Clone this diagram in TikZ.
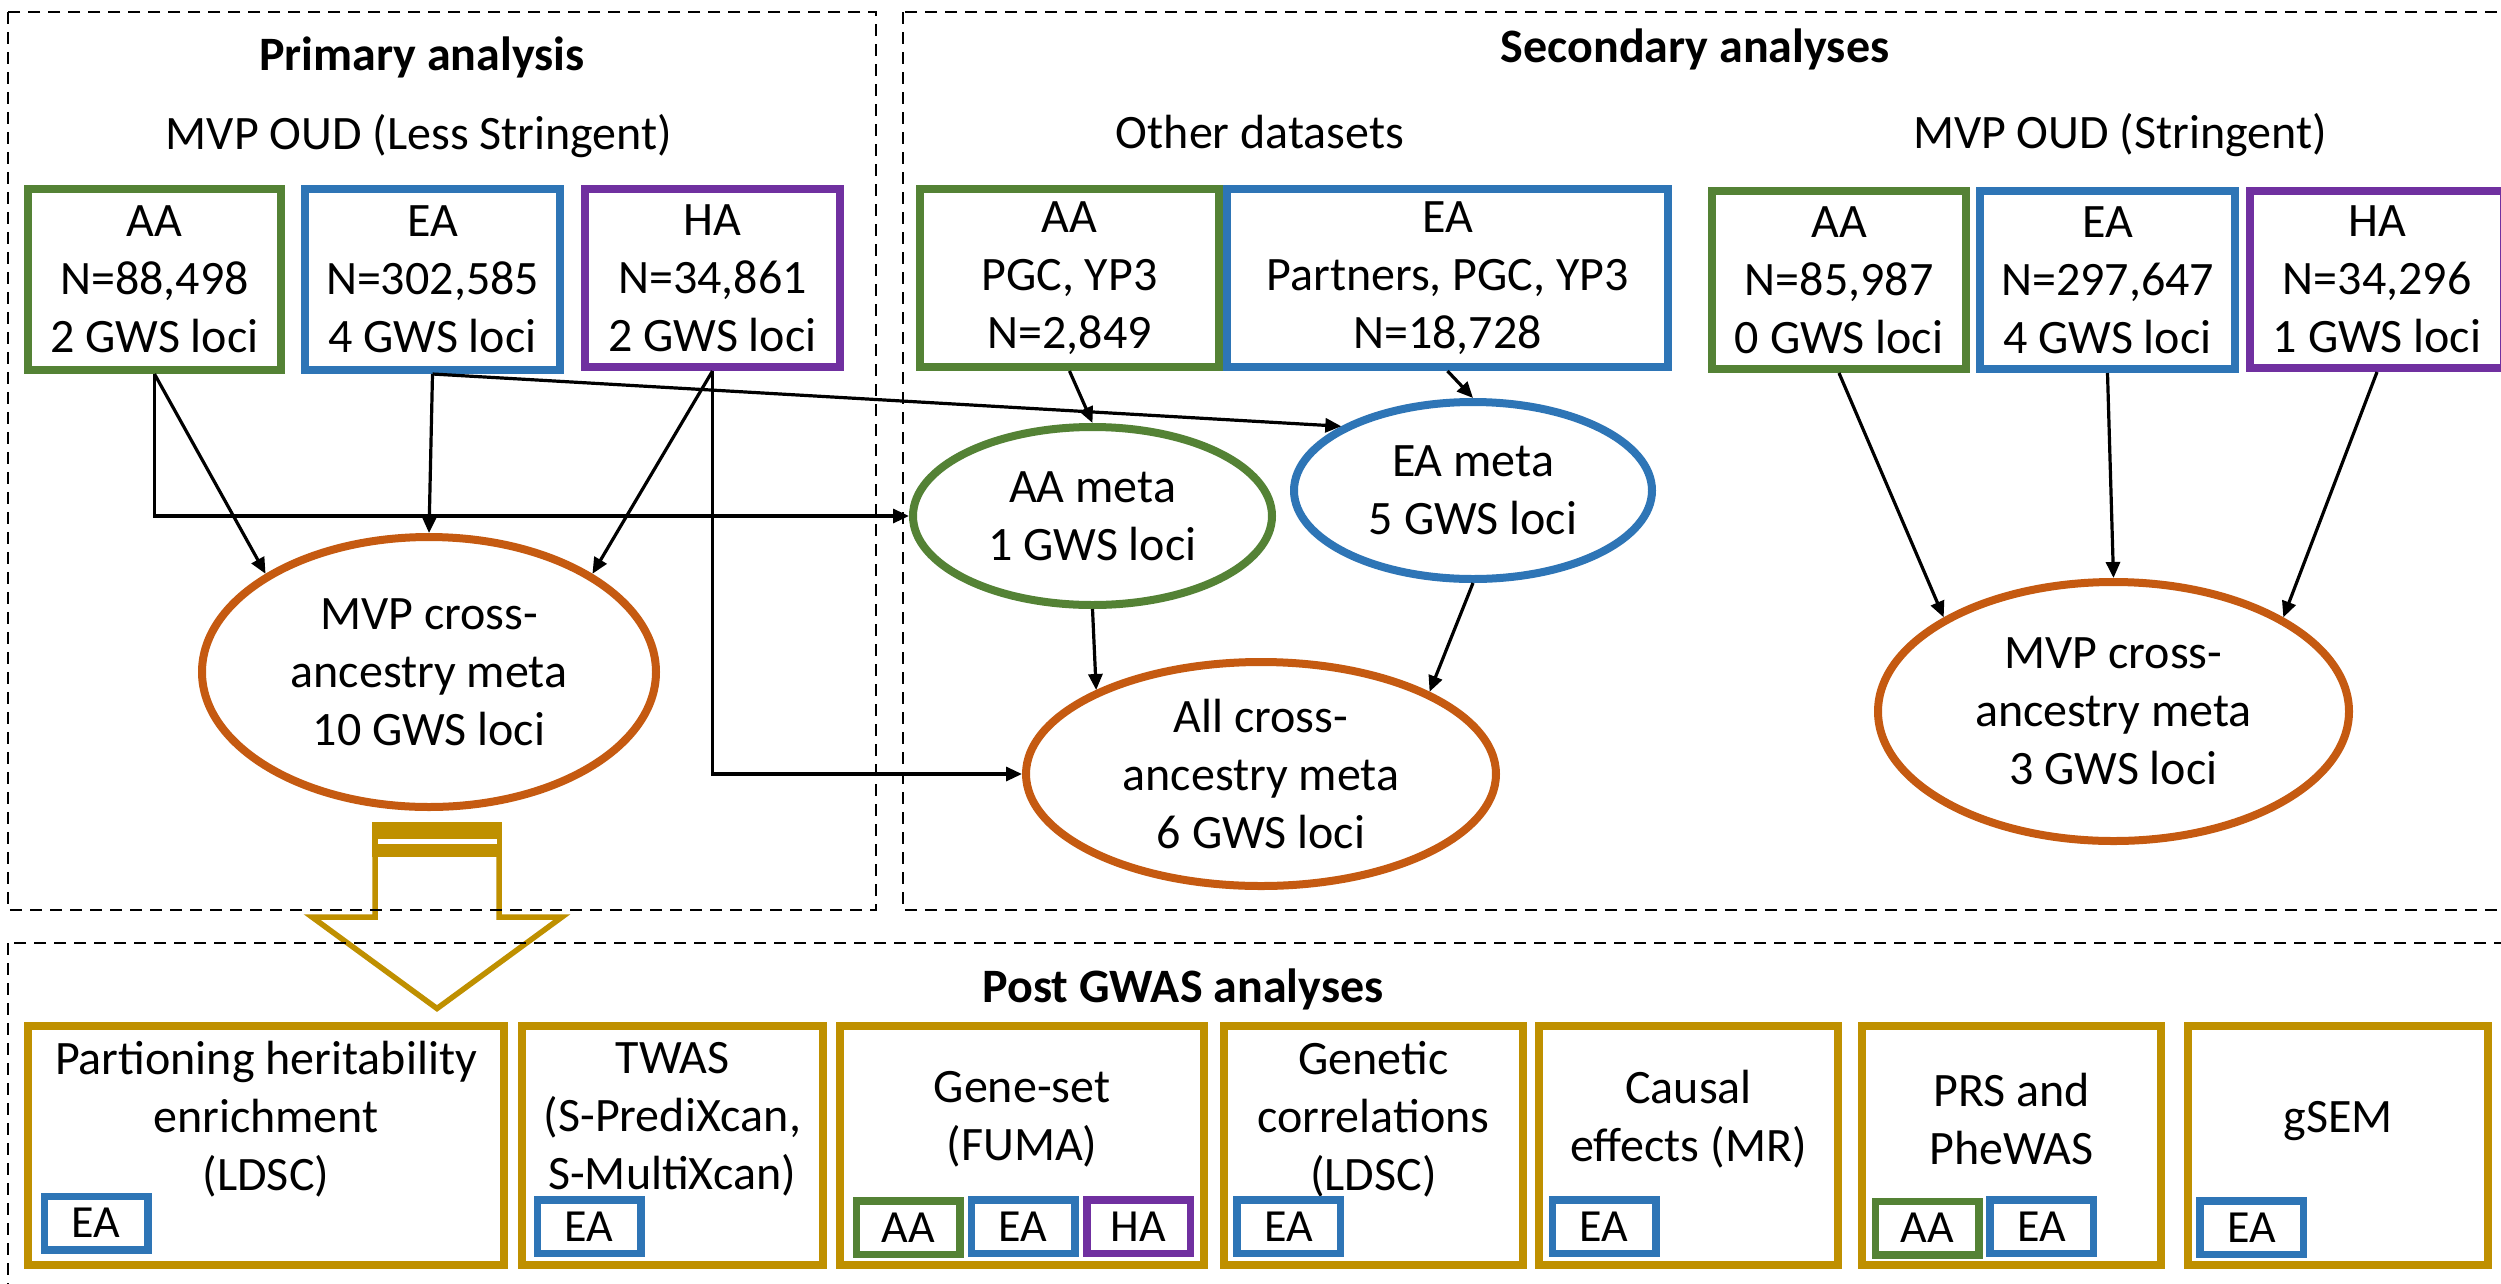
\documentclass[tikz,border=0pt]{standalone}
\usepackage{fontspec}
\setmainfont{Carlito}
\usetikzlibrary{arrows.meta,shapes.geometric}
\definecolor{cgreen}{HTML}{548235}
\definecolor{cblue}{HTML}{2E75B6}
\definecolor{cpurple}{HTML}{7030A0}
\definecolor{corange}{HTML}{C55A11}
\definecolor{cgold}{HTML}{BF9000}
\newcommand{\fmain}{\fontsize{48}{58}\selectfont}
\newcommand{\fbadge}{\fontsize{46}{56}\selectfont}
\begin{document}
\begin{tikzpicture}[x=1pt,y=-1pt,
 txt/.style={font=\fmain, align=center, inner sep=0pt},
 ttl/.style={font=\fmain\bfseries, inner sep=0pt, anchor=base},
 hdr/.style={font=\fmain, inner sep=0pt, anchor=base},
 dbox/.style={draw=#1, line width=8pt, fill=white, align=center, inner sep=0pt, font=\fmain},
 ell/.style={ellipse, draw=#1, line width=8pt, fill=white, align=center, inner sep=-40pt, font=\fmain},
 gbox/.style={draw=cgold, line width=8pt, fill=white, inner sep=0pt, minimum height=239pt},
 badge/.style={draw=#1, line width=7.5pt, fill=white, inner sep=0pt, font=\fbadge, minimum width=103.5pt, minimum height=53.5pt},
 conn/.style={line width=3.2pt, -{Triangle[length=16pt,width=14pt]}},
 dbord/.style={line width=2.7pt, dash pattern=on 12pt off 8pt}
]
\useasboundingbox (0,0) rectangle (2501,1283);
\fill[white] (0,0) rectangle (2501,1283);
\clip (0,0) rectangle (2501,1283);

% striped block arrow
\fill[cgold] (372,822) rectangle (502,857);
\fill[white] (377.5,839) rectangle (496.5,844);
\draw[cgold, line width=5.5pt, miter limit=10] (375,855) -- (375,917) -- (312,917) -- (437,1008.5) -- (562,917) -- (499,917) -- (499,855);

% dashed group borders
\draw[dbord] (8,12) rectangle (876,910);
\draw[dbord] (903,12) rectangle (2512,910);
\draw[dbord] (8,943) rectangle (2512,1298);

% titles and headers
\node[ttl] (tprim) at (422,70) {Primary analysis};
\node[hdr] (hless) at (419,149) {MVP OUD (Less Stringent)};
\node[ttl] (tsec) at (1695,62) {Secondary analyses};
\node[hdr] (hother) at (1260,148) {Other datasets};
\node[hdr] (hstr) at (2120,148) {MVP OUD (Stringent)};
\node[ttl] (tpost) at (1183,1002) {Post GWAS analyses};

% primary boxes
\node[dbox=cgreen, minimum width=253pt, minimum height=181pt] (pAA) at (154.5,279.5) {AA\\N=88,498\\2 GWS loci};
\node[dbox=cblue, minimum width=255pt, minimum height=181pt] (pEA) at (432.5,279.5) {EA\\N=302,585\\4 GWS loci};
\node[dbox=cpurple, minimum width=255pt, minimum height=178pt] (pHA) at (712.5,278) {HA\\N=34,861\\2 GWS loci};
\node[ell=corange, minimum width=454pt, minimum height=270pt] (pMeta) at (429,672) {MVP cross-\\ancestry meta\\10 GWS loci};

% other datasets
\node[dbox=cgreen, minimum width=299pt, minimum height=178pt] (oAA) at (1069.5,278) {AA\\PGC, YP3\\N=2,849};
\node[dbox=cblue, minimum width=441pt, minimum height=178pt] (oEA) at (1447.5,278) {EA\\Partners, PGC, YP3\\N=18,728};
\node[ell=cgreen, minimum width=359pt, minimum height=178pt] (sAAmeta) at (1092.5,516) {AA meta\\1 GWS loci};
\node[ell=cblue, minimum width=358pt, minimum height=177pt] (sEAmeta) at (1473,490.5) {EA meta\\5 GWS loci};
\node[ell=corange, minimum width=470pt, minimum height=224pt] (sAll) at (1261,774) {All cross-\\ancestry meta\\6 GWS loci};

% stringent
\node[dbox=cgreen, minimum width=254pt, minimum height=178pt] (sAA) at (1839,280) {AA\\N=85,987\\0 GWS loci};
\node[dbox=cblue, minimum width=255pt, minimum height=178pt] (sEA) at (2107.5,280) {EA\\N=297,647\\4 GWS loci};
\node[dbox=cpurple, minimum width=254pt, minimum height=177pt] (sHA) at (2377,279.5) {HA\\N=34,296\\1 GWS loci};
\node[ell=corange, minimum width=471pt, minimum height=259pt] (sMeta) at (2113.5,711.5) {MVP cross-\\ancestry meta\\3 GWS loci};

% connectors
\draw[conn] (pAA.south) |- (sAAmeta.west);
\draw[conn] (pAA.south) -- (pMeta.149);
\draw[conn] (pEA.south) -- (pMeta.north);
\draw[conn] (pEA.south) -- (sEAmeta.154);
\draw[conn] (pHA.south) -- (pMeta.31);
\draw[conn] (pHA.south) |- (sAll.west);
\draw[conn] (oAA.south) -- (sAAmeta.north);
\draw[conn] (oEA.south) -- (sEAmeta.north);
\draw[conn] (sAAmeta.south) -- (sAll.153);
\draw[conn] (sEAmeta.south) -- (sAll.26);
\draw[conn] (sAA.south) -- (sMeta.151);
\draw[conn] (sEA.south) -- (sMeta.north);
\draw[conn] (sHA.south) -- (sMeta.29);

% post GWAS boxes
\node[gbox, minimum width=476pt] (g1) at (266,1145.5) {};
\node[gbox, minimum width=301pt] (g2) at (672.5,1145.5) {};
\node[gbox, minimum width=364pt] (g3) at (1022,1145.5) {};
\node[gbox, minimum width=299pt] (g4) at (1373.5,1145.5) {};
\node[gbox, minimum width=299pt] (g5) at (1688.5,1145.5) {};
\node[gbox, minimum width=299pt] (g6) at (2011.5,1145.5) {};
\node[gbox, minimum width=300pt] (g7) at (2338,1145.5) {};

\node[txt] (t1) at (266,1119) {Partioning heritability\\enrichment\\(LDSC)};
\node[txt] (t2) at (672.5,1119) {TWAS\\(S-PrediXcan,\\S-MultiXcan)};
\node[txt] (t3) at (1022,1119) {Gene-set\\(FUMA)};
\node[txt] (t4) at (1373.5,1119) {Genetic\\correlations\\(LDSC)};
\node[txt] (t5) at (1688.5,1119) {Causal\\effects (MR)};
\node[txt] (t6) at (2011.5,1119) {PRS and\\PheWAS};
\node[txt] (t7) at (2338,1121) {gSEM};

\node[badge=cblue] (b1) at (96,1223) {EA};
\node[badge=cblue] (b2) at (589,1226.5) {EA};
\node[badge=cgreen] (b3a) at (908,1227.5) {AA};
\node[badge=cblue] (b3e) at (1023,1226.5) {EA};
\node[badge=cpurple] (b3h) at (1138.5,1226.5) {HA};
\node[badge=cblue] (b4) at (1288.5,1226.5) {EA};
\node[badge=cblue] (b5) at (1604,1226.5) {EA};
\node[badge=cgreen] (b6a) at (1927,1228) {AA};
\node[badge=cblue] (b6e) at (2041.5,1226.5) {EA};
\node[badge=cblue] (b7) at (2251.5,1227.5) {EA};
\end{tikzpicture}
\end{document}
